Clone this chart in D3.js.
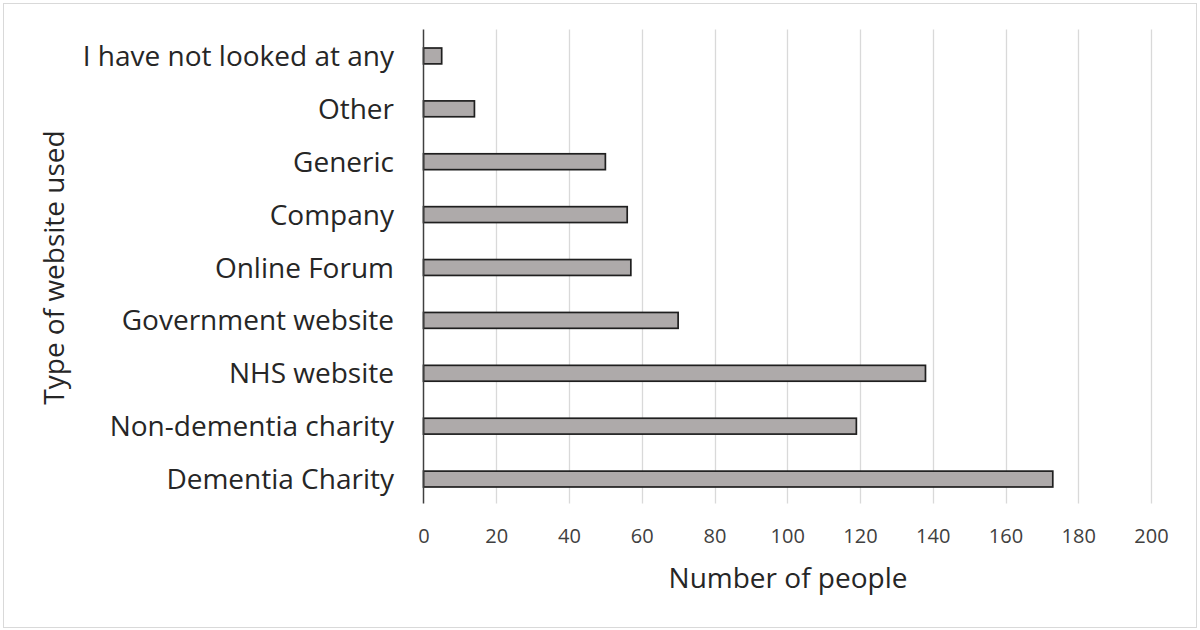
<!DOCTYPE html>
<html>
<head>
<meta charset="utf-8">
<script src="https://cdn.jsdelivr.net/npm/d3@7"></script>
<style>
  html, body { margin: 0; padding: 0; background: #fff; }
  svg { display: block; }
  text { font-family: "Open Sans", sans-serif; }
</style>
</head>
<body>
<svg id="chart" width="1200" height="630"></svg>
<script>
const categories = [
  "I have not looked at any",
  "Other",
  "Generic",
  "Company",
  "Online Forum",
  "Government website",
  "NHS website",
  "Non-dementia charity",
  "Dementia Charity"
];
const values = [5, 14, 50, 56, 57, 70, 138, 119, 173];
const xTicks = [0, 20, 40, 60, 80, 100, 120, 140, 160, 180, 200];
const xTitle = "Number of people";
const yTitle = "Type of website used";

const svg = d3.select("#chart");

// outer border
svg.append("rect")
  .attr("x", 3.5).attr("y", 3.5)
  .attr("width", 1193).attr("height", 624)
  .attr("fill", "#fff")
  .attr("stroke", "#d9d9d9").attr("stroke-width", 1);

const plot = { left: 423.5, right: 1151, top: 29.5, bottom: 505.5 };

const x = d3.scaleLinear().domain([0, 200]).range([plot.left, plot.right]);
const y = d3.scaleBand().domain(categories)
  .range([plot.top, plot.bottom])
  .paddingInner(0.7).paddingOuter(0.35);

// gridlines
svg.append("g").selectAll("line")
  .data(xTicks.filter(t => t > 0))
  .join("line")
  .attr("x1", d => Math.round(x(d)) + 0.5)
  .attr("x2", d => Math.round(x(d)) + 0.5)
  .attr("y1", plot.top).attr("y2", plot.bottom - 2)
  .attr("stroke", "#d9d9d9").attr("stroke-width", 1.3);

// bars
const data = categories.map((c, i) => ({ c, v: values[i] }));
svg.append("g").selectAll("rect")
  .data(data)
  .join("rect")
  .attr("x", x(0))
  .attr("y", d => y(d.c))
  .attr("width", d => x(d.v) - x(0))
  .attr("height", y.bandwidth())
  .attr("fill", "#aeaaaa")
  .attr("stroke", "#1f1f1f").attr("stroke-width", 1.7);

// vertical axis line
svg.append("line")
  .attr("x1", x(0)).attr("x2", x(0))
  .attr("y1", plot.top).attr("y2", plot.bottom - 2)
  .attr("stroke", "#404040").attr("stroke-width", 1.5);

// x tick labels (via axis)
const xAxis = d3.axisBottom(x).tickValues(xTicks).tickSize(0).tickPadding(0);
const gx = svg.append("g").attr("transform", "translate(0,543)").call(xAxis);
gx.select(".domain").remove();
gx.selectAll("text")
  .attr("dy", 0).attr("y", 0)
  .attr("fill", "#404040")
  .style("font-size", "20px")
  .style("font-family", "'Open Sans', sans-serif");

// category labels (via axis)
const yAxis = d3.axisLeft(y).tickSize(0).tickPadding(0);
const gy = svg.append("g").attr("transform", "translate(394,0)").call(yAxis);
gy.select(".domain").remove();
gy.selectAll("text")
  .attr("x", 0)
  .attr("dy", "0.36em")
  .attr("fill", "#262626")
  .style("font-size", "28px")
  .style("font-family", "'Open Sans', sans-serif");

// axis titles
svg.append("text")
  .attr("x", 788).attr("y", 588)
  .attr("text-anchor", "middle")
  .attr("fill", "#262626")
  .style("font-size", "28px")
  .text(xTitle);

svg.append("text")
  .attr("transform", "translate(64,267.5) rotate(-90)")
  .attr("text-anchor", "middle")
  .attr("fill", "#262626")
  .style("font-size", "28px")
  .text(yTitle);
</script>
</body>
</html>
